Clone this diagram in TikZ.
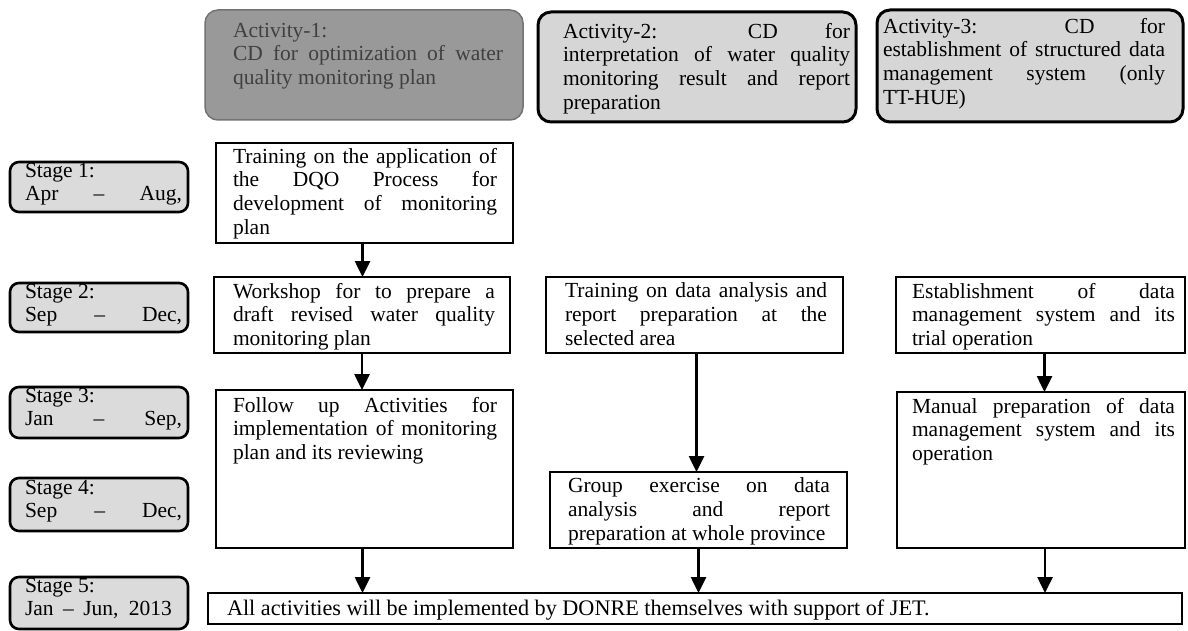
\documentclass[tikz,border=0pt]{standalone}
\usepackage{fontspec}
\setmainfont{Liberation Serif}
\usetikzlibrary{arrows.meta}
\tikzset{
  every node/.style={inner sep=0pt, outer sep=0pt},
  sbox/.style={draw=black, line width=2.6pt, rounded corners=9pt, fill=black!14, anchor=north west, minimum width=178pt},
  abox/.style={draw=black, line width=3pt, rounded corners=13pt, fill=black!16, anchor=north west},
  adark/.style={draw=black!55, line width=1.5pt, rounded corners=13pt, fill=black!40, anchor=north west},
  cbox/.style={draw=black, line width=2.4pt, anchor=north west},
  txt/.style={anchor=north west, align=justify, font={\fontsize{21.5}{23.7}\selectfont\hyphenpenalty=10000}},
  stxt/.style={txt, text width=157pt},
  flow/.style={line width=2.6pt, -{Triangle[width=15pt,length=16pt]}},
}
\begin{document}
\begin{tikzpicture}[x=1pt, y=-1pt]
\useasboundingbox (0,0) rectangle (1188,631);
\fill[white] (0,0) rectangle (1188,631);

% Activity headers
\node[adark, minimum width=318pt, minimum height=110pt] (a1) at (205,10) {};
\node[txt, text width=270pt, text=black!75] (a1t) at ([xshift=28pt,yshift=-13pt]a1.north west)
  {Activity-1:\\ CD for optimization of water\linebreak quality monitoring plan};

\node[abox, minimum width=318pt, minimum height=110pt] (a2) at (538,12) {};
\node[txt, text width=287pt] (a2t) at ([xshift=25pt,yshift=-11pt]a2.north west)
  {Activity-2: CD for\linebreak interpretation of water quality\linebreak monitoring result and report\linebreak preparation};

\node[abox, minimum width=306pt, minimum height=112pt] (a3) at (877,10) {};
\node[txt, text width=282pt] (a3t) at ([xshift=6pt,yshift=-8pt]a3.north west)
  {Activity-3: CD for\linebreak establishment of structured data\linebreak management system (only\linebreak TT-HUE)};

% Stages
\node[sbox, minimum height=50pt] (s1) at (10,162) {};
\node[stxt] (s1t) at ([xshift=15pt,yshift=-1pt]s1.north west) {Stage 1:\\\makebox[\linewidth][s]{Apr -- Aug,}};
\node[sbox, minimum height=49pt] (s2) at (10,283) {};
\node[stxt] (s2t) at ([xshift=15pt,yshift=-1pt]s2.north west) {Stage 2:\\\makebox[\linewidth][s]{Sep -- Dec,}};
\node[sbox, minimum height=51pt] (s3) at (10,387) {};
\node[stxt] (s3t) at ([xshift=15pt,yshift=-1pt]s3.north west) {Stage 3:\\\makebox[\linewidth][s]{Jan -- Sep,}};
\node[sbox, minimum height=53pt] (s4) at (10,478) {};
\node[stxt] (s4t) at ([xshift=15pt,yshift=-2pt]s4.north west) {Stage 4:\\\makebox[\linewidth][s]{Sep -- Dec,}};
\node[sbox, minimum height=52pt] (s5) at (10,577) {};
\node[stxt] (s5t) at ([xshift=15pt,yshift=-1pt]s5.north west) {Stage 5:\\\makebox[147pt][s]{Jan -- Jun, 2013}};

% Column 1
\node[cbox, minimum width=297pt, minimum height=100pt] (c1a) at (216,143) {};
\node[txt, text width=264pt] (c1at) at ([xshift=17pt,yshift=-5pt]c1a.north west)
  {Training on the application of\linebreak the DQO Process for\linebreak development of monitoring\linebreak plan};
\node[cbox, minimum width=296pt, minimum height=76pt] (c1b) at (214,277) {};
\node[txt, text width=262pt] (c1bt) at ([xshift=19pt,yshift=-6pt]c1b.north west)
  {Workshop for to prepare a\linebreak draft revised water quality\linebreak monitoring plan};
\node[cbox, minimum width=297pt, minimum height=158pt] (c1c) at (216,390) {};
\node[txt, text width=264pt] (c1ct) at ([xshift=17pt,yshift=-7pt]c1c.north west)
  {Follow up Activities for\linebreak implementation of monitoring\linebreak plan and its reviewing};

% Column 2
\node[cbox, minimum width=297pt, minimum height=76pt] (c2a) at (546,277) {};
\node[txt, text width=262pt] (c2at) at ([xshift=19pt,yshift=-6pt]c2a.north west)
  {Training on data analysis and\linebreak report preparation at the\linebreak selected area};
\node[cbox, minimum width=297pt, minimum height=76pt] (c2b) at (550,472) {};
\node[txt, text width=262pt] (c2bt) at ([xshift=18pt,yshift=-6pt]c2b.north west)
  {Group exercise on data\linebreak analysis and report\linebreak preparation at whole province};

% Column 3
\node[cbox, minimum width=289pt, minimum height=76pt] (c3a) at (896,277) {};
\node[txt, text width=263pt] (c3at) at ([xshift=16pt,yshift=-6pt]c3a.north west)
  {Establishment of data\linebreak management system and its\linebreak trial operation};
\node[cbox, minimum width=288pt, minimum height=156pt] (c3b) at (897,392) {};
\node[txt, text width=263pt] (c3bt) at ([xshift=15pt,yshift=-6pt]c3b.north west)
  {Manual preparation of data\linebreak management system and its\linebreak operation};

% Bottom
\node[cbox, minimum width=974pt, minimum height=31pt] (bot) at (208,593) {};
\node[anchor=north west, font={\fontsize{22.2}{24}\selectfont}] (bott) at ([xshift=19pt,yshift=-7pt]bot.north west)
  {All activities will be implemented by DONRE themselves with support of JET.};

% Arrows
\draw[flow] ([xshift=-2pt]c1a.south) -- ([xshift=-2pt]c1a.south |- c1b.north);
\draw[flow] (c1b.south) -- (c1b.south |- c1c.north);
\draw[flow] ([xshift=-2pt]c1c.south) -- ([xshift=-2pt]c1c.south |- bot.north);
\draw[flow] ([xshift=2pt]c2a.south) -- ([xshift=2pt]c2a.south |- c2b.north);
\draw[flow] (c2b.south) -- (c2b.south |- bot.north);
\draw[flow] ([xshift=4pt]c3a.south) -- ([xshift=4pt]c3a.south |- c3b.north);
\draw[flow] ([xshift=4pt]c3b.south) -- ([xshift=4pt]c3b.south |- bot.north);
\end{tikzpicture}
\end{document}
